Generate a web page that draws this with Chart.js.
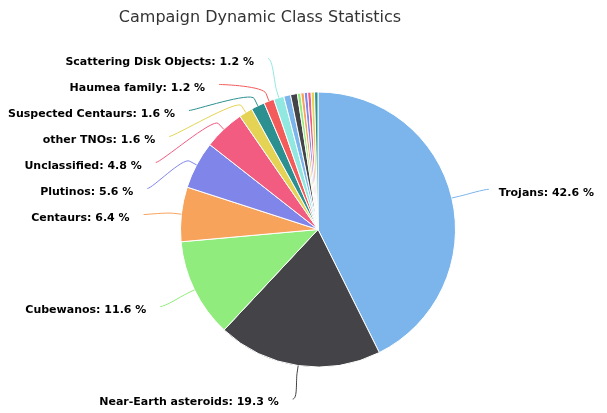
<!DOCTYPE html>
<html>
<head>
<meta charset="utf-8">
<title>Campaign Dynamic Class Statistics</title>
<script src="https://cdn.jsdelivr.net/npm/chart.js@4/dist/chart.umd.min.js"></script>
<style>
  html, body { margin: 0; padding: 0; background: #fff; }
  #wrap { width: 607px; height: 413px; position: relative; }
</style>
</head>
<body>
<div id="wrap"><canvas id="pie"></canvas></div>
<script>
// Dynamic classes, clockwise from 12 o'clock
const classes = [
    'Trojans', 'Near-Earth asteroids', 'Cubewanos', 'Centaurs', 'Plutinos',
    'Unclassified', 'other TNOs', 'Suspected Centaurs', 'Haumea family',
    'Scattering Disk Objects', 'Main-belt asteroids', 'Detached objects',
    'Neptune Trojans', 'Twotinos', 'Hildas', 'Comets', 'Resonant TNOs', 'Satellites'
];
// share of campaign, percent (last 8 slices are too small to be labelled)
const shares = [42.6, 19.3, 11.6, 6.4, 5.6, 4.8, 1.6, 1.6, 1.2, 1.2, 0.8, 0.8, 0.4, 0.4, 0.4, 0.4, 0.4, 0.4];

// Highcharts-like palette, repeated
const palette = ['#7cb5ec', '#434348', '#90ed7d', '#f7a35c', '#8085e9',
                 '#f15c80', '#e4d354', '#2b908f', '#f45b5b', '#91e8e1'];
const sliceColors = shares.map((v, i) => palette[i % palette.length]);

const titleText = 'Campaign Dynamic Class Statistics';
const LABEL_FONT = 'bold 11px "DejaVu Sans", sans-serif';
const MIN_LABELLED = 1; // percent

// spread labels on one side so they do not overlap
function distribute(items, minY, maxY, gap) {
    items.sort((a, b) => a.natural - b.natural);
    const place = c => {
        const n = c.items.length;
        const mean = c.items.reduce((s, it) => s + it.natural, 0) / n;
        let start = mean - (n - 1) * gap / 2;
        start = Math.max(minY, Math.min(start, maxY - (n - 1) * gap));
        c.start = start;
    };
    let clusters = items.map(it => ({ items: [it] }));
    clusters.forEach(place);
    let merged = true;
    while (merged) {
        merged = false;
        for (let k = 0; k < clusters.length - 1; k++) {
            const a = clusters[k], b = clusters[k + 1];
            if (a.start + a.items.length * gap > b.start) {
                const c = { items: a.items.concat(b.items) };
                place(c);
                clusters.splice(k, 2, c);
                merged = true;
                break;
            }
        }
    }
    clusters.forEach(c => c.items.forEach((it, j) => { it.y = c.start + j * gap; }));
}

const pieLabels = {
    id: 'pieLabels',
    afterDraw(chart) {
        const ctx = chart.ctx;
        const meta = chart.getDatasetMeta(0);
        const first = meta.data[0];
        const cx = first.x, cy = first.y, r = first.outerRadius;
        const labelR = r + 38;

        // title
        ctx.save();
        ctx.fillStyle = '#333333';
        ctx.font = '16px "DejaVu Sans", sans-serif';
        ctx.textAlign = 'center';
        ctx.textBaseline = 'alphabetic';
        ctx.fillText(titleText, 260, 22);
        ctx.restore();

        const left = [], right = [];
        meta.data.forEach((arc, i) => {
            if (shares[i] < MIN_LABELLED) return;
            const mid = (arc.startAngle + arc.endAngle) / 2;
            const item = {
                i, mid,
                natural: cy + Math.sin(mid) * labelR,
                naturalX: cx + Math.cos(mid) * labelR,
                touch: { x: cx + Math.cos(mid) * r, y: cy + Math.sin(mid) * r },
                brk: { x: cx + Math.cos(mid) * (r + 8), y: cy + Math.sin(mid) * (r + 8) }
            };
            (Math.cos(mid) < 0 ? left : right).push(item);
        });
        distribute(left, 58.5, 399, 26);
        distribute(right, 58.5, 399, 26);

        ctx.save();
        ctx.font = LABEL_FONT;
        ctx.textBaseline = 'middle';
        const drawSide = (items, isLeft) => {
            items.forEach(it => {
                let ax;
                if (Math.abs(it.y - it.natural) < 6) {
                    ax = it.naturalX;
                } else {
                    const dy = Math.max(-labelR, Math.min(labelR, it.y - cy));
                    const dx = Math.sqrt(labelR * labelR - dy * dy);
                    ax = isLeft ? cx - dx : cx + dx;
                }
                const ay = it.y;
                // soft connector
                ctx.strokeStyle = sliceColors[it.i];
                ctx.lineWidth = 1;
                ctx.beginPath();
                ctx.moveTo(ax, ay);
                ctx.bezierCurveTo(ax + (isLeft ? 5 : -5), ay,
                    2 * it.brk.x - it.touch.x, 2 * it.brk.y - it.touch.y,
                    it.brk.x, it.brk.y);
                ctx.lineTo(it.touch.x, it.touch.y);
                ctx.stroke();
                // label
                ctx.fillStyle = '#000000';
                ctx.textAlign = isLeft ? 'right' : 'left';
                const text = classes[it.i] + ': ' + shares[it.i].toFixed(1) + ' %';
                ctx.fillText(text, isLeft ? ax - 14 : ax + 10, ay + 3.5);
            });
        };
        drawSide(left, true);
        drawSide(right, false);
        ctx.restore();
    }
};

new Chart(document.getElementById('pie').getContext('2d'), {
    type: 'pie',
    data: {
        labels: classes,
        datasets: [{
            data: shares,
            backgroundColor: sliceColors,
            borderColor: '#ffffff',
            borderWidth: 1,
            hoverOffset: 0,
            offset: 0,
            radius: 137.5
        }]
    },
    options: {
        responsive: true,
        maintainAspectRatio: false,
        animation: false,
        layout: {
            padding: { left: 180.5, right: 151.5, top: 92, bottom: 46 }
        },
        plugins: {
            legend: { display: false },
            title: { display: false },
            tooltip: { enabled: false }
        }
    },
    plugins: [pieLabels]
});
</script>
</body>
</html>
